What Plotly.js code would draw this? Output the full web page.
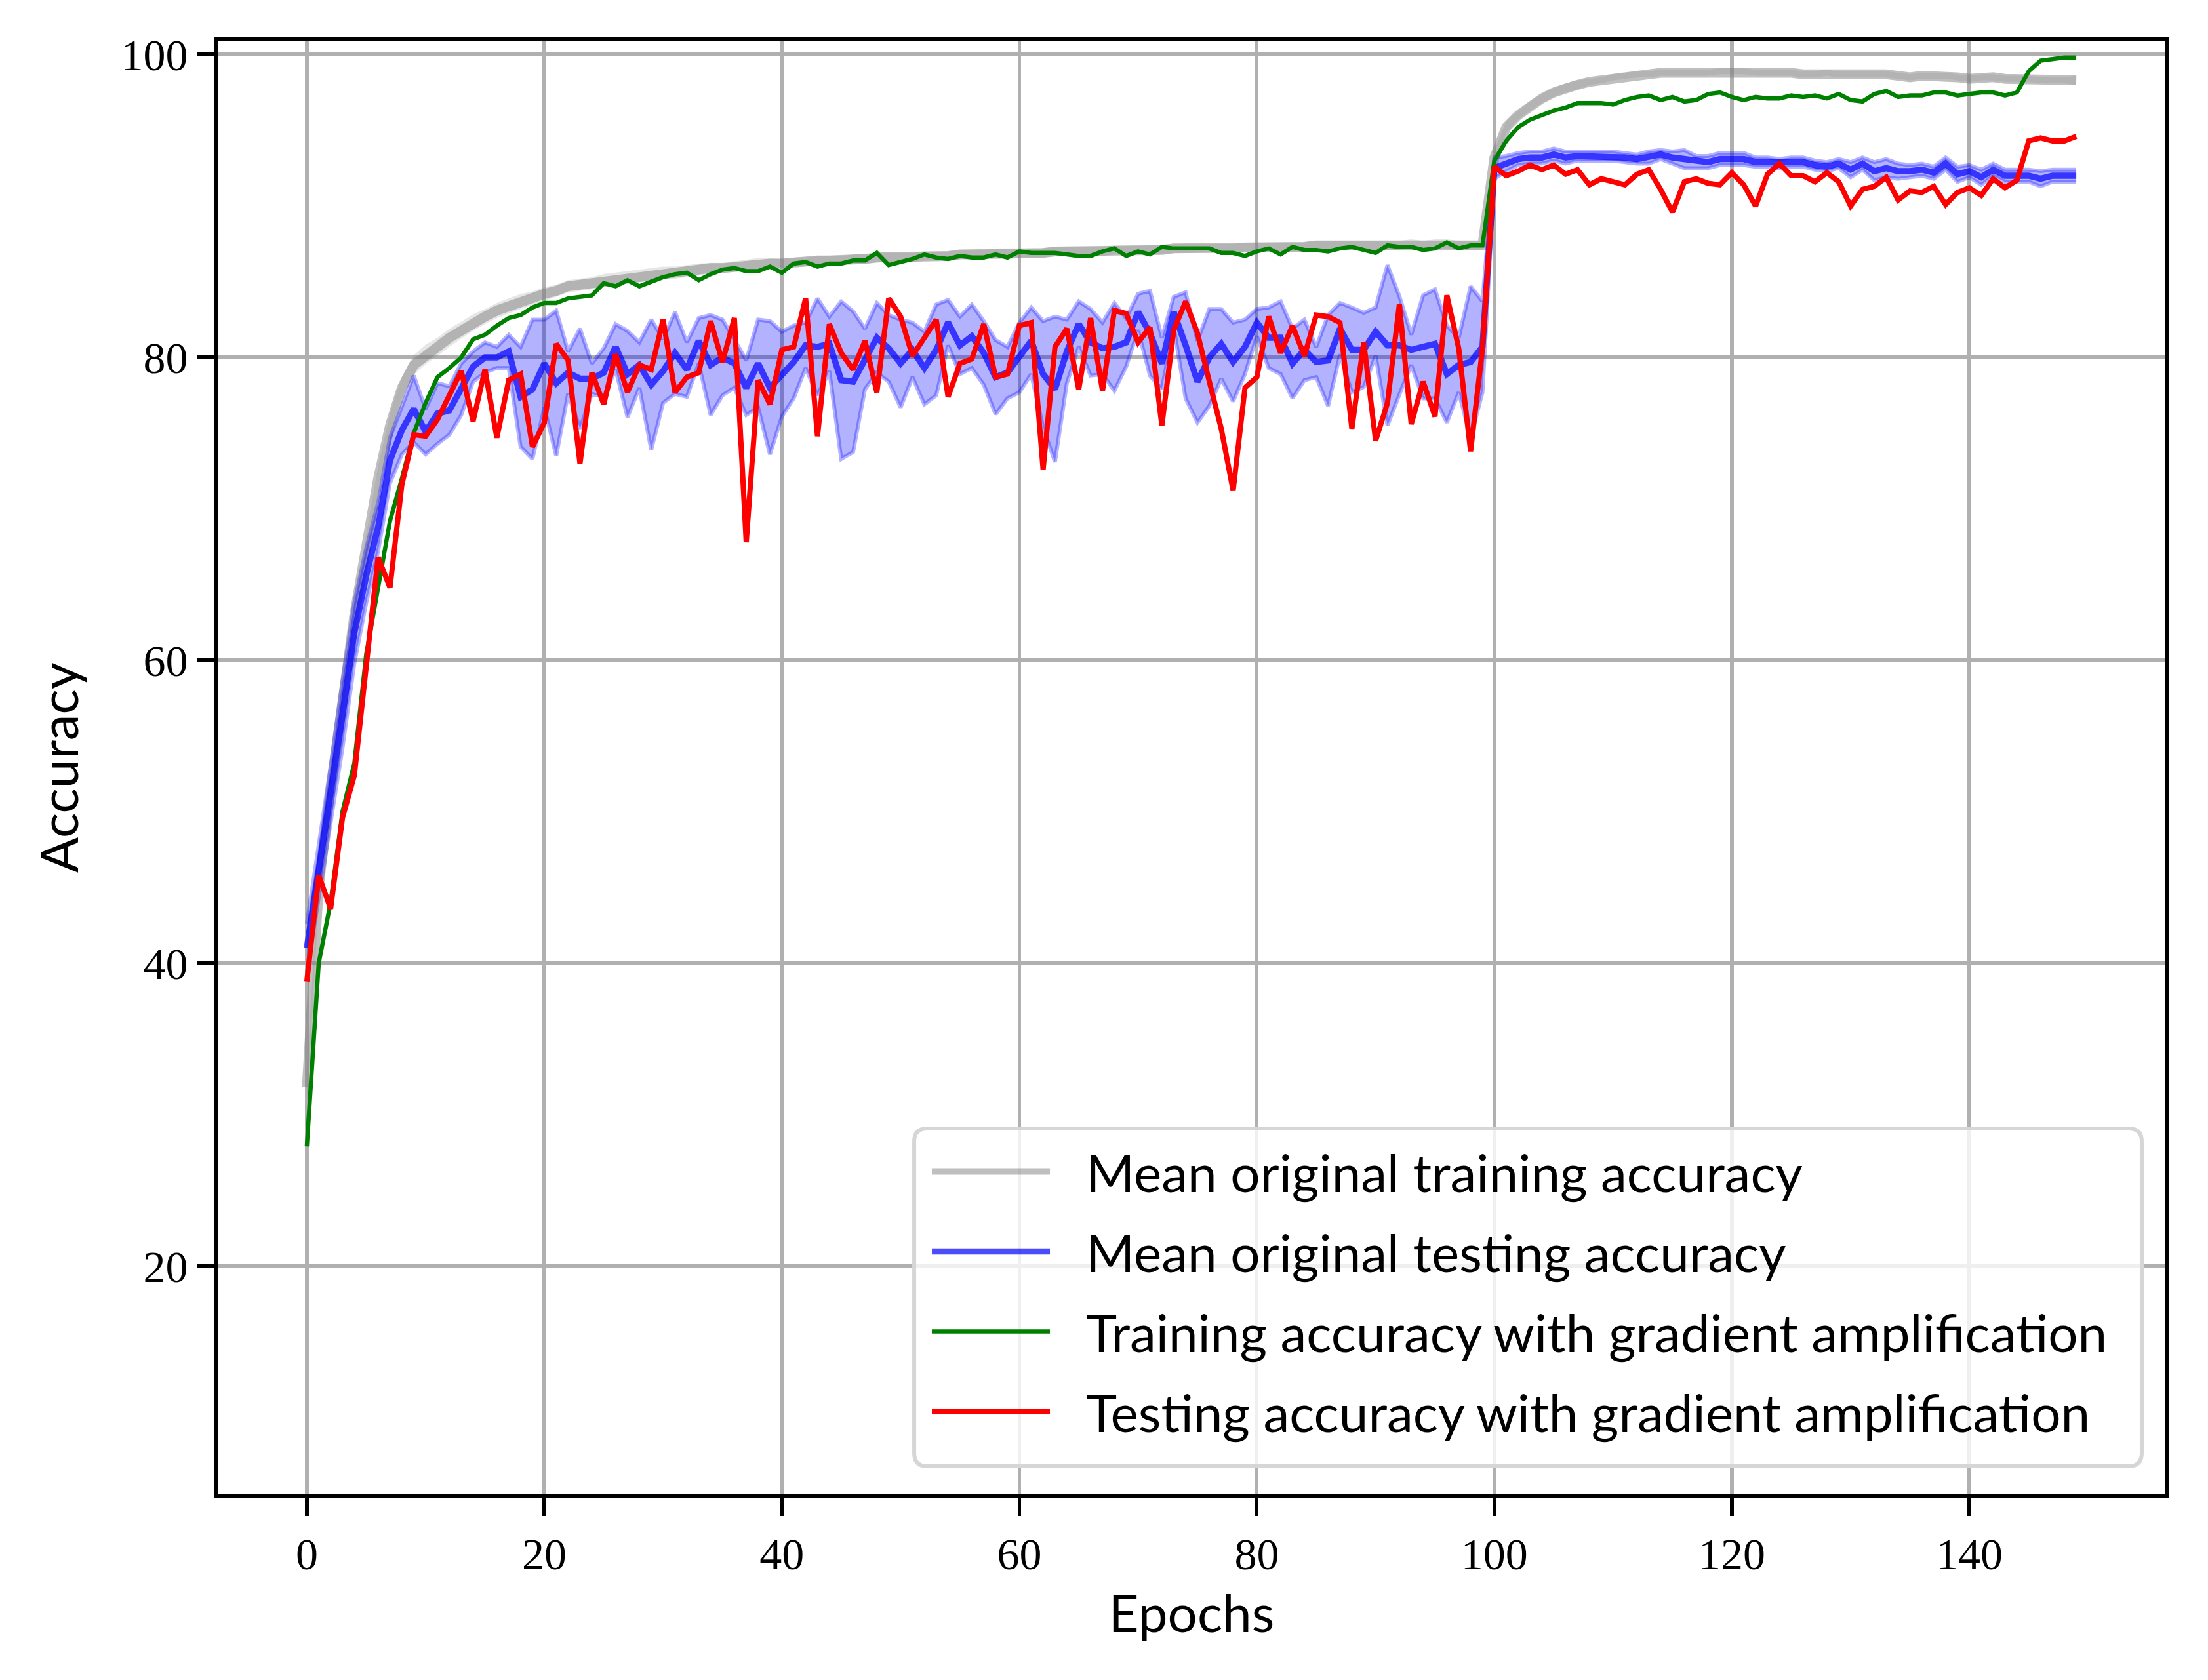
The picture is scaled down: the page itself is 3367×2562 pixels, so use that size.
<!DOCTYPE html>
<html>
<head>
<meta charset="utf-8">
<script src="https://cdn.plot.ly/plotly-3.0.1.min.js"></script>
<style>html,body{margin:0;padding:0;background:#fff;}#chart{width:3367px;height:2562px;}</style>
</head>
<body>
<div id="chart"></div>
<script>
// ---- data ----
const epochs = Array.from({length:150}, (_, i) => i);

const trainMeanOrig = [
31.8,45.0,51.5,57.5,63.0,67.5,72.0,75.5,78.0,79.5,
80.2,80.7,81.3,81.8,82.3,82.7,83.1,83.4,83.7,83.9,
84.2,84.4,84.7,84.8,84.9,85.1,85.2,85.3,85.4,85.5,
85.6,85.6,85.7,85.8,85.9,85.9,86.0,86.1,86.2,86.2,
86.2,86.3,86.3,86.4,86.4,86.4,86.5,86.5,86.6,86.6,
86.6,86.6,86.7,86.7,86.7,86.8,86.8,86.8,86.9,86.9,
86.9,86.9,86.9,87.0,87.0,87.0,87.0,87.0,87.1,87.1,
87.1,87.1,87.1,87.2,87.2,87.2,87.2,87.2,87.2,87.3,
87.3,87.3,87.3,87.3,87.3,87.4,87.4,87.4,87.4,87.4,
87.4,87.4,87.4,87.5,87.4,87.5,87.5,87.4,87.4,87.4,
93.2,95.2,96.0,96.6,97.1,97.5,97.8,98.0,98.2,98.3,
98.5,98.6,98.7,98.7,98.8,98.8,98.8,98.8,98.8,98.9,
98.9,98.9,98.8,98.8,98.8,98.8,98.7,98.7,98.8,98.7,
98.7,98.7,98.7,98.7,98.6,98.5,98.6,98.6,98.6,98.5,
98.4,98.5,98.5,98.4,98.4,98.4,98.3,98.3,98.3,98.3];

const trainStdOrig = [
1.2,1.0,1.0,1.0,0.9,0.9,0.8,0.8,0.7,0.65,
0.65,0.6,0.6,0.55,0.55,0.5,0.5,0.5,0.5,0.45,
0.45,0.4,0.4,0.4,0.4,0.4,0.4,0.4,0.4,0.4,
0.4,0.4,0.4,0.4,0.35,0.35,0.35,0.35,0.35,0.35,
0.3,0.3,0.3,0.3,0.3,0.3,0.3,0.3,0.3,0.3,
0.3,0.3,0.3,0.3,0.3,0.3,0.3,0.3,0.3,0.3,
0.3,0.3,0.3,0.3,0.3,0.3,0.3,0.3,0.3,0.3,
0.3,0.3,0.3,0.3,0.3,0.3,0.3,0.3,0.3,0.3,
0.3,0.3,0.3,0.3,0.3,0.3,0.3,0.3,0.3,0.3,
0.3,0.3,0.3,0.3,0.3,0.3,0.3,0.3,0.3,0.3,
0.5,0.4,0.3,0.3,0.3,0.3,0.3,0.3,0.2,0.2,
0.2,0.2,0.2,0.2,0.2,0.2,0.2,0.2,0.2,0.2,
0.2,0.2,0.2,0.2,0.2,0.2,0.2,0.2,0.2,0.2,
0.2,0.2,0.2,0.2,0.2,0.2,0.2,0.2,0.2,0.2,
0.2,0.2,0.2,0.2,0.2,0.2,0.2,0.2,0.2,0.3];

const testMeanOrig = [
41.0,46.0,51.0,56.4,61.8,65.6,68.8,73.2,75.2,76.6,
75.1,76.3,76.5,77.9,79.4,80.0,80.0,80.4,77.4,77.9,
79.6,78.3,79.0,78.6,78.6,79.0,80.7,78.9,79.5,78.2,
79.1,80.3,79.2,81.1,79.5,80.0,79.6,78.0,79.6,78.0,
78.9,79.7,80.8,80.7,80.9,78.5,78.4,79.9,81.3,80.6,
79.6,80.5,79.3,80.5,82.3,80.8,81.4,80.3,78.7,79.0,
80.0,81.1,78.9,77.9,80.4,82.2,81.0,80.6,80.7,81.0,
83.0,81.6,79.6,83.0,80.8,78.4,80.0,80.9,79.7,80.7,
82.3,81.3,81.3,79.6,80.5,79.7,79.8,81.9,80.5,80.5,
81.7,80.8,80.8,80.5,80.7,80.9,78.9,79.5,79.7,80.7,
92.5,92.8,93.1,93.2,93.2,93.4,93.2,93.3,93.3,93.3,
93.3,93.2,93.1,93.2,93.4,93.2,93.1,92.9,92.9,93.1,
93.1,93.1,92.9,92.9,92.8,92.9,92.9,92.7,92.6,92.8,
92.4,92.8,92.3,92.5,92.3,92.3,92.4,92.2,92.8,92.1,
92.3,91.9,92.4,92.0,92.0,92.0,91.8,92.0,92.0,92.0];

const testStdOrig = [
1.6,1.6,2.0,2.2,2.0,1.8,1.6,1.5,1.6,2.2,
1.5,2.0,1.6,1.7,1.0,1.0,0.7,1.1,3.3,4.6,
2.9,4.8,1.4,3.3,1.0,1.6,1.5,2.85,1.5,4.3,
2.1,2.7,1.8,1.5,3.3,2.5,1.6,1.8,2.9,4.4,
2.8,2.4,1.5,3.2,1.8,5.2,4.65,2.0,2.3,2.2,
2.9,1.8,2.4,3.0,1.5,1.9,2.1,2.1,2.45,1.7,
2.3,2.2,3.5,4.8,2.1,1.5,2.2,1.7,2.9,1.6,
1.2,2.8,1.7,1.0,3.5,2.7,3.2,2.3,2.6,1.8,
0.9,2.0,2.4,2.3,2.0,1.0,3.0,1.7,2.8,2.45,
1.6,5.3,3.25,1.0,3.4,3.6,3.2,1.8,5.0,3.0,
0.7,0.5,0.4,0.4,0.4,0.4,0.4,0.3,0.3,0.3,
0.3,0.3,0.3,0.4,0.3,0.4,0.6,0.4,0.4,0.4,
0.4,0.4,0.3,0.3,0.3,0.3,0.3,0.3,0.3,0.3,
0.5,0.4,0.6,0.6,0.5,0.4,0.4,0.4,0.4,0.5,
0.4,0.5,0.4,0.4,0.4,0.4,0.5,0.4,0.4,0.4];

const trainAmp = [
27.9,40.0,44.0,50.0,53.2,60.4,64.8,69.2,72.0,75.0,
77.0,78.7,79.3,80.0,81.2,81.5,82.1,82.6,82.8,83.3,
83.6,83.6,83.9,84.0,84.1,84.9,84.7,85.1,84.7,85.0,
85.3,85.5,85.6,85.1,85.5,85.8,85.9,85.7,85.7,86.0,
85.6,86.2,86.3,86.0,86.2,86.2,86.4,86.4,86.9,86.1,
86.3,86.5,86.8,86.6,86.5,86.7,86.6,86.6,86.8,86.6,
87.0,86.9,86.9,86.9,86.8,86.7,86.7,87.0,87.2,86.7,
87.0,86.8,87.3,87.2,87.2,87.2,87.2,86.9,86.9,86.7,
87.0,87.2,86.8,87.3,87.1,87.1,87.0,87.2,87.3,87.1,
86.9,87.4,87.3,87.3,87.1,87.2,87.6,87.2,87.4,87.4,
93.0,94.3,95.2,95.7,96.0,96.3,96.5,96.8,96.8,96.8,
96.7,97.0,97.2,97.3,97.0,97.2,96.9,97.0,97.4,97.5,
97.2,97.0,97.2,97.1,97.1,97.3,97.2,97.3,97.1,97.4,
97.0,96.9,97.4,97.6,97.2,97.3,97.3,97.5,97.5,97.3,
97.4,97.5,97.5,97.3,97.5,98.9,99.6,99.7,99.8,99.8];

const testAmp = [
38.8,45.8,43.6,49.6,52.4,59.8,66.8,64.8,71.6,74.9,
74.8,75.9,77.6,79.1,75.8,79.2,74.7,78.5,78.9,74.1,
75.7,80.9,79.8,73.0,79.0,76.9,80.2,77.7,79.5,79.2,
82.5,77.7,78.7,79.0,82.4,79.7,82.6,67.8,78.5,76.9,
80.5,80.7,83.9,74.8,82.2,80.3,79.2,81.1,77.7,83.9,
82.7,80.1,81.3,82.5,77.4,79.6,79.9,82.2,78.7,78.9,
82.1,82.3,72.6,80.7,81.9,77.9,82.6,77.8,83.1,82.9,
81.0,82.0,75.5,81.8,83.7,81.6,78.4,75.3,71.2,78.0,
78.7,82.7,80.3,82.1,80.1,82.8,82.7,82.3,75.3,81.0,
74.5,77.0,83.5,75.6,78.4,76.1,84.1,80.6,73.8,80.6,
92.6,92.0,92.3,92.7,92.4,92.7,92.1,92.4,91.4,91.8,
91.6,91.4,92.1,92.4,91.1,89.6,91.6,91.8,91.5,91.4,
92.2,91.4,90.0,92.1,92.8,92.0,92.0,91.6,92.2,91.6,
90.0,91.1,91.3,91.9,90.4,91.0,90.9,91.3,90.1,90.9,
91.2,90.7,91.8,91.2,91.7,94.3,94.5,94.3,94.3,94.6];

const xTicks = [0,20,40,60,80,100,120,140];
const yTicks = [20,40,60,80,100];

const seriesNames = [
  'Mean original training accuracy',
  'Mean original testing accuracy',
  'Training accuracy with gradient amplification',
  'Testing accuracy with gradient amplification'
];

// ---- derived band edges (mean ± std) ----
const trLo = trainMeanOrig.map((m,i)=>m-trainStdOrig[i]);
const trHi = trainMeanOrig.map((m,i)=>m+trainStdOrig[i]);
const teLo = testMeanOrig.map((m,i)=>m-testStdOrig[i]);
const teHi = testMeanOrig.map((m,i)=>m+testStdOrig[i]);

const GAP = '\u2002\u2009'; // spacing between legend swatch and label

const traces = [
  {x:epochs, y:trLo, mode:'lines', line:{width:0, color:'rgba(128,128,128,0)'}, showlegend:false, hoverinfo:'skip'},
  {x:epochs, y:trHi, mode:'lines', fill:'tonexty', fillcolor:'rgba(128,128,128,0.2)', line:{width:0, color:'rgba(128,128,128,0)'}, showlegend:false, hoverinfo:'skip'},
  {x:epochs, y:trainMeanOrig, mode:'lines', name:GAP+seriesNames[0], legendgroup:'g0', line:{color:'rgba(128,128,128,0.5)', width:15}},
  {x:epochs, y:teLo, mode:'lines', line:{width:6, color:'rgba(0,0,255,0.3)'}, showlegend:false, hoverinfo:'skip'},
  {x:epochs, y:teHi, mode:'lines', fill:'tonexty', fillcolor:'rgba(0,0,255,0.3)', line:{width:6, color:'rgba(0,0,255,0.3)'}, showlegend:false, hoverinfo:'skip'},
  {x:epochs, y:testMeanOrig, mode:'lines', name:GAP+seriesNames[1], legendgroup:'g1', line:{color:'rgba(0,0,255,0.7)', width:9.5}},
  {x:epochs, y:trainAmp, mode:'lines', name:GAP+seriesNames[2], legendgroup:'g2', line:{color:'#008000', width:6.5}},
  {x:epochs, y:testAmp, mode:'lines', name:GAP+seriesNames[3], legendgroup:'g3', line:{color:'#ff0000', width:8}}
];

const axisCommon = {
  showline:true, linecolor:'#000', linewidth:5.8, mirror:true,
  showgrid:true, gridcolor:'#b0b0b0', gridwidth:5.8, zeroline:false,
  ticks:'outside', ticklen:27, tickwidth:5.8, tickcolor:'#000',
  tickfont:{family:'Liberation Serif, serif', size:68, color:'#000'}
};

// legend frame (rounded box) in paper coordinates
const bx0 = 0.3575, bx1 = 0.9882, by0 = 0.0194, by1 = 0.2517, rx = 0.0067, ry = 0.009;
const framePath = 'M' + (bx0+rx) + ',' + by0 + ' L' + (bx1-rx) + ',' + by0 +
  ' Q' + bx1 + ',' + by0 + ' ' + bx1 + ',' + (by0+ry) +
  ' L' + bx1 + ',' + (by1-ry) + ' Q' + bx1 + ',' + by1 + ' ' + (bx1-rx) + ',' + by1 +
  ' L' + (bx0+rx) + ',' + by1 + ' Q' + bx0 + ',' + by1 + ' ' + bx0 + ',' + (by1-ry) +
  ' L' + bx0 + ',' + (by0+ry) + ' Q' + bx0 + ',' + by0 + ' ' + (bx0+rx) + ',' + by0 + ' Z';

const layout = {
  width:3367, height:2562,
  paper_bgcolor:'#fff', plot_bgcolor:'#fff',
  margin:{l:333, r:66, t:62, b:283},
  xaxis: Object.assign({}, axisCommon, {
    range:[-7.45,156.45], tickmode:'array', tickvals:xTicks,
    title:{text:'Epochs', font:{family:'Lato, sans-serif', size:80, color:'#000'}, standoff:27}
  }),
  yaxis: Object.assign({}, axisCommon, {
    range:[4.92,100.92], tickmode:'array', tickvals:yTicks,
    title:{text:'Accuracy', font:{family:'Lato, sans-serif', size:80, color:'#000'}, standoff:40}
  }),
  shapes:[{type:'path', xref:'paper', yref:'paper', path:framePath, layer:'above',
           fillcolor:'rgba(255,255,255,0.8)', line:{color:'#d6d6d6', width:6}}],
  showlegend:true,
  legend:{
    x:0.3649, xanchor:'left', y:0.2485, yanchor:'top',
    bgcolor:'rgba(0,0,0,0)', borderwidth:0,
    font:{family:'Lato, sans-serif', size:80, color:'#000'},
    itemwidth:180, traceorder:'grouped', tracegroupgap:15
  }
};

Plotly.newPlot('chart', traces, layout, {staticPlot:true, displayModeBar:false});
</script>
</body>
</html>
